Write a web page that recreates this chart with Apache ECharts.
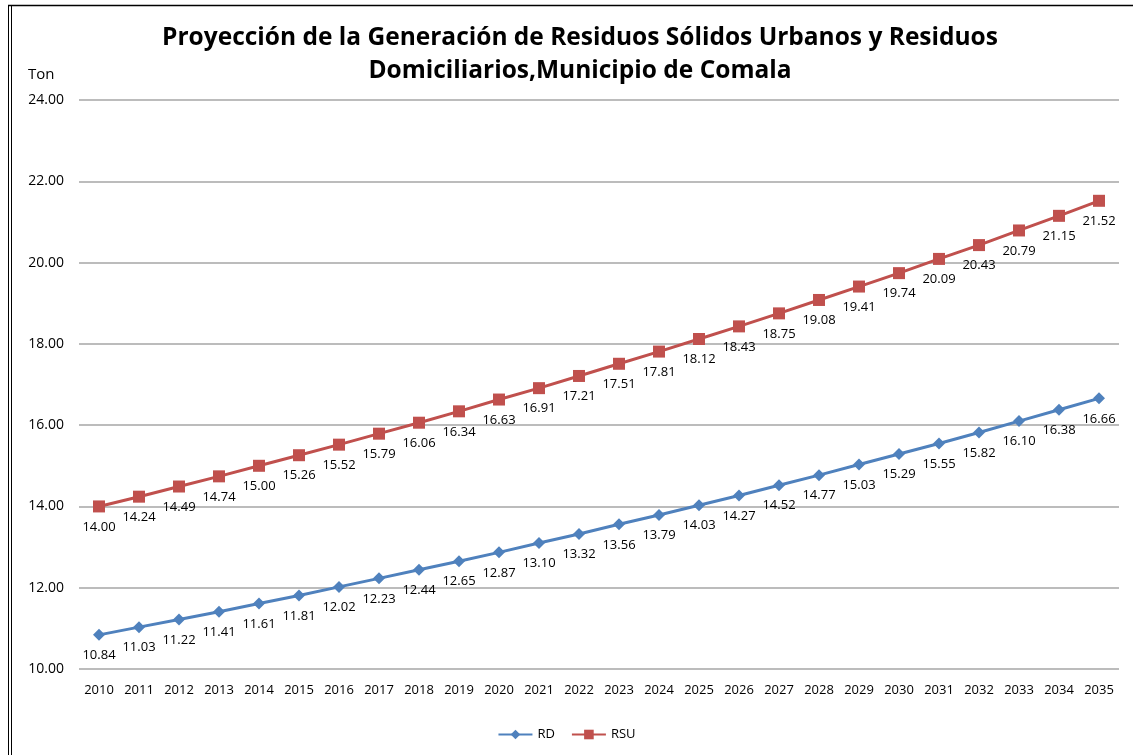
<!DOCTYPE html>
<html><head><meta charset="utf-8">
<script src="https://cdn.jsdelivr.net/npm/echarts@6/dist/echarts.min.js"></script>
<style>html,body{margin:0;padding:0;background:#fff}#c{width:1133px;height:755px}</style>
</head><body><div id="c"></div>
<script>
const years = ['2010','2011','2012','2013','2014','2015','2016','2017','2018','2019','2020','2021','2022','2023','2024','2025','2026','2027','2028','2029','2030','2031','2032','2033','2034','2035'];
const rd = [10.84,11.03,11.22,11.41,11.61,11.81,12.02,12.23,12.44,12.65,12.87,13.10,13.32,13.56,13.79,14.03,14.27,14.52,14.77,15.03,15.29,15.55,15.82,16.10,16.38,16.66];
const rsu = [14.00,14.24,14.49,14.74,15.00,15.26,15.52,15.79,16.06,16.34,16.63,16.91,17.21,17.51,17.81,18.12,18.43,18.75,19.08,19.41,19.74,20.09,20.43,20.79,21.15,21.52];
const font = "'Open Sans', 'Noto Sans', sans-serif";
const chart = echarts.init(document.getElementById('c'));
const lbl = {show:true, position:'bottom', distance:8, fontFamily:font, fontSize:13, color:'#000', formatter:p=>p.value.toFixed(2)};
chart.setOption({
  animation:false,
  textStyle:{fontFamily:font},
  title:{text:'Proyección de la Generación de Residuos Sólidos Urbanos y Residuos\nDomiciliarios,Municipio de Comala', left:575, top:17, textAlign:'center',
    textStyle:{fontFamily:font, fontSize:24.5, fontWeight:'bold', color:'#000', lineHeight:33}},
  graphic:[
    {type:'line', shape:{x1:8,y1:5.5,x2:1133,y2:5.5}, style:{stroke:'#000',lineWidth:1.5}},
    {type:'line', shape:{x1:8.5,y1:5,x2:8.5,y2:755}, style:{stroke:'#000',lineWidth:1}},
    {type:'line', shape:{x1:11.5,y1:5,x2:11.5,y2:755}, style:{stroke:'#000',lineWidth:1}},
    {type:'text', left:28, top:67, style:{text:'Ton', font:"15px 'Open Sans', sans-serif", fill:'#000'}}
  ],
  legend:{bottom:9, left:'center', itemWidth:34, itemHeight:12, itemGap:16, textStyle:{fontFamily:font, fontSize:13, color:'#000'},
    data:['RD','RSU']},
  grid:{left:79, right:14, top:100, bottom:86, containLabel:false},
  xAxis:{type:'category', data:years, boundaryGap:true,
    axisLine:{show:false}, axisTick:{show:false},
    axisLabel:{fontFamily:font, fontSize:13, color:'#000', margin:15, interval:0}},
  yAxis:{type:'value', min:10, max:24, interval:2,
    axisLine:{show:false}, axisTick:{show:false},
    axisLabel:{fontFamily:font, fontSize:14, color:'#000', margin:15, formatter:v=>v.toFixed(2)},
    splitLine:{lineStyle:{color:'#a6a6a6', width:1.5}}},
  series:[
    {name:'RD', type:'line', data:rd, symbol:'diamond', symbolSize:12, lineStyle:{color:'#4F81BD', width:3}, itemStyle:{color:'#4F81BD'}, label:lbl},
    {name:'RSU', type:'line', data:rsu, symbol:'rect', symbolSize:12, lineStyle:{color:'#C0504D', width:3}, itemStyle:{color:'#C0504D'}, label:lbl}
  ]
});
</script></body></html>
